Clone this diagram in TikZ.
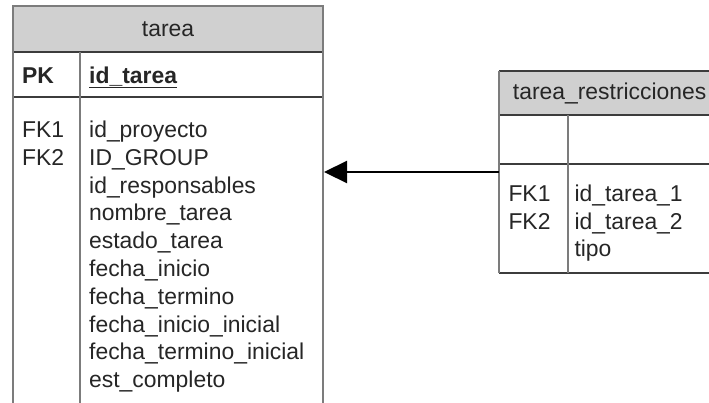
\documentclass[tikz,border=0pt]{standalone}
\usepackage{fontspec}
\setmainfont{Liberation Sans}
\usetikzlibrary{arrows.meta}
\definecolor{hdrfill}{HTML}{D0D0D0}
\definecolor{edgegray}{HTML}{7C7C7C}
\definecolor{rulegray}{HTML}{3C3C3C}
\definecolor{txt}{HTML}{262626}
\tikzset{
  frame/.style={draw=edgegray, line width=2.4pt},
  header/.style={fill=hdrfill},
  rule/.style={draw=rulegray, line width=2pt},
  field/.style={anchor=base west, inner sep=0pt, text=txt,
    font=\fontsize{22.9}{27}\selectfont},
  title/.style={field},
  link/.style={draw=black, line width=2.2pt, -{Triangle[length=23pt,width=22pt]}},
}
\begin{document}
\begin{tikzpicture}[x=1pt, y=-1pt]
\useasboundingbox (0,0) rectangle (709,402);
\fill[white] (0,0) rectangle (709,402);
\clip (0,0) rectangle (709,402);

% ---- table: tarea ----
\fill[header] (13,6) rectangle (323,52);
\draw[rule] (13,52) -- (323,52);
\draw[rule] (13,97) -- (323,97);
\draw[rule] (13,6) -- (323,6);
\draw[frame] (80,52) -- (80,420);
\draw[frame] (13,420) -- (13,6) -- (323,6) -- (323,420);
\node[title, anchor=base] (t-name) at (168,36) {tarea};
\node[field] (t-pk) at (22,83.3) {\textbf{PK}};
\node[field] (t-id) at (89,83.3) {\textbf{\underline{id\_tarea}}};
\node[field] (t-fk1) at (22,137.5) {FK1};
\node[field] (t-fk2) at (22,165.3) {FK2};
\node[field] (t-f1) at (89,137.5) {id\_proyecto};
\node[field] (t-f2) at (89,165.3) {ID\_GROUP};
\node[field] (t-f3) at (89,193.1) {id\_responsables};
\node[field] (t-f4) at (89,220.9) {nombre\_tarea};
\node[field] (t-f5) at (89,248.7) {estado\_tarea};
\node[field] (t-f6) at (89,276.5) {fecha\_inicio};
\node[field] (t-f7) at (89,304.3) {fecha\_termino};
\node[field] (t-f8) at (89,332.1) {fecha\_inicio\_inicial};
\node[field] (t-f9) at (89,359.9) {fecha\_termino\_inicial};
\node[field] (t-f10) at (89,387.7) {est\_completo};

% ---- table: tarea_restricciones ----
\fill[header] (499,71) rectangle (730,115);
\draw[rule] (499,115) -- (730,115);
\draw[rule] (499,164) -- (730,164);
\draw[rule] (499,71) -- (730,71);
\draw[rule] (499,273) -- (730,273);
\draw[frame] (568,115) -- (568,273);
\draw[frame] (499,273) -- (499,71);
\node[title] (r-name) at (512.7,99.3) {tarea\_restricciones};
\node[field] (r-fk1) at (508.3,201.5) {FK1};
\node[field] (r-fk2) at (508.3,229) {FK2};
\node[field] (r-f1) at (574.3,201.5) {id\_tarea\_1};
\node[field] (r-f2) at (574.3,229) {id\_tarea\_2};
\node[field] (r-f3) at (574.3,256.5) {tipo};

% ---- relationship ----
\coordinate (r-link) at (499,172);
\coordinate (t-link) at (324,172);
\draw[link] (r-link) -- (t-link);
\end{tikzpicture}
\end{document}
